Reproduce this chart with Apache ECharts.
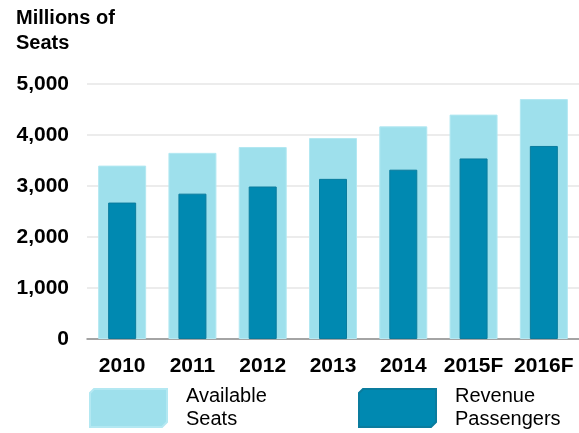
<!DOCTYPE html>
<html>
<head>
<meta charset="utf-8">
<script src="https://cdn.jsdelivr.net/npm/echarts@6/dist/echarts.min.js"></script>
<style>
  html, body { margin: 0; padding: 0; background: #fff; }
  #chart { width: 579px; height: 433px; }
</style>
</head>
<body>
<div id="chart"></div>
<script>
var years = ['2010', '2011', '2012', '2013', '2014', '2015F', '2016F'];
var availableSeats = [3400, 3650, 3765, 3940, 4170, 4400, 4705];
var revenuePassengers = [2675, 2850, 2990, 3140, 3320, 3540, 3785];
var yTicks = [0, 1000, 2000, 3000, 4000, 5000];

var lightBlue = '#9ee0ec';
var darkBlue = '#0089b1';
var font = '"Liberation Sans", Arial, sans-serif';

// legend swatch: rectangle with two clipped corners
var swatch = 'path://M4,0 L77,0 L77,33 L72,38 L0,38 L0,4 Z';

var chart = echarts.init(document.getElementById('chart'));

var legendText = {
    fontFamily: font,
    fontSize: 20,
    color: '#000',
    lineHeight: 23,
    padding: [0, 0, 0, 14]
};

var option = {
    animation: false,
    title: {
        text: 'Millions of\nSeats',
        left: 11,
        top: 1,
        textStyle: {
            fontFamily: font,
            fontSize: 20,
            fontWeight: 'bold',
            color: '#000',
            lineHeight: 25
        }
    },
    grid: {
        left: 87,
        top: 84,
        width: 496,
        bottom: 94,
        containLabel: false
    },
    legend: [{
        data: ['Available Seats'],
        left: 89,
        top: 385,
        padding: 0,
        icon: swatch,
        itemWidth: 77,
        itemHeight: 38,
        formatter: function () { return 'Available\nSeats'; },
        textStyle: legendText
    }, {
        data: ['Revenue Passengers'],
        left: 358,
        top: 385,
        padding: 0,
        icon: swatch,
        itemWidth: 77,
        itemHeight: 38,
        formatter: function () { return 'Revenue\nPassengers'; },
        textStyle: legendText
    }],
    xAxis: [{
        type: 'category',
        data: years,
        axisTick: { show: false },
        axisLine: { lineStyle: { color: '#8c8c8c', width: 1.5 } },
        axisLabel: {
            margin: 17,
            fontFamily: font,
            fontSize: 21,
            fontWeight: 'bold',
            color: '#000',
            interval: 0
        }
    }, {
        type: 'category',
        data: years,
        show: false
    }],
    yAxis: {
        type: 'value',
        min: yTicks[0],
        max: yTicks[yTicks.length - 1],
        interval: 1000,
        axisLine: { show: false },
        axisTick: { show: false },
        splitLine: { lineStyle: { color: '#e6e6e6', width: 1.5 } },
        axisLabel: {
            margin: 18,
            fontFamily: font,
            fontSize: 21,
            fontWeight: 'bold',
            color: '#000',
            formatter: function (v) { return v.toLocaleString('en-US'); }
        }
    },
    series: [{
        name: 'Available Seats',
        type: 'bar',
        xAxisIndex: 0,
        barWidth: 48,
        data: availableSeats,
        itemStyle: { color: lightBlue, borderColor: '#b3e8f2', borderWidth: 1 }
    }, {
        name: 'Revenue Passengers',
        type: 'bar',
        xAxisIndex: 1,
        barWidth: 28,
        data: revenuePassengers,
        itemStyle: { color: darkBlue, borderColor: '#0a7c9e', borderWidth: 1 }
    }]
};

chart.setOption(option);
</script>
</body>
</html>
